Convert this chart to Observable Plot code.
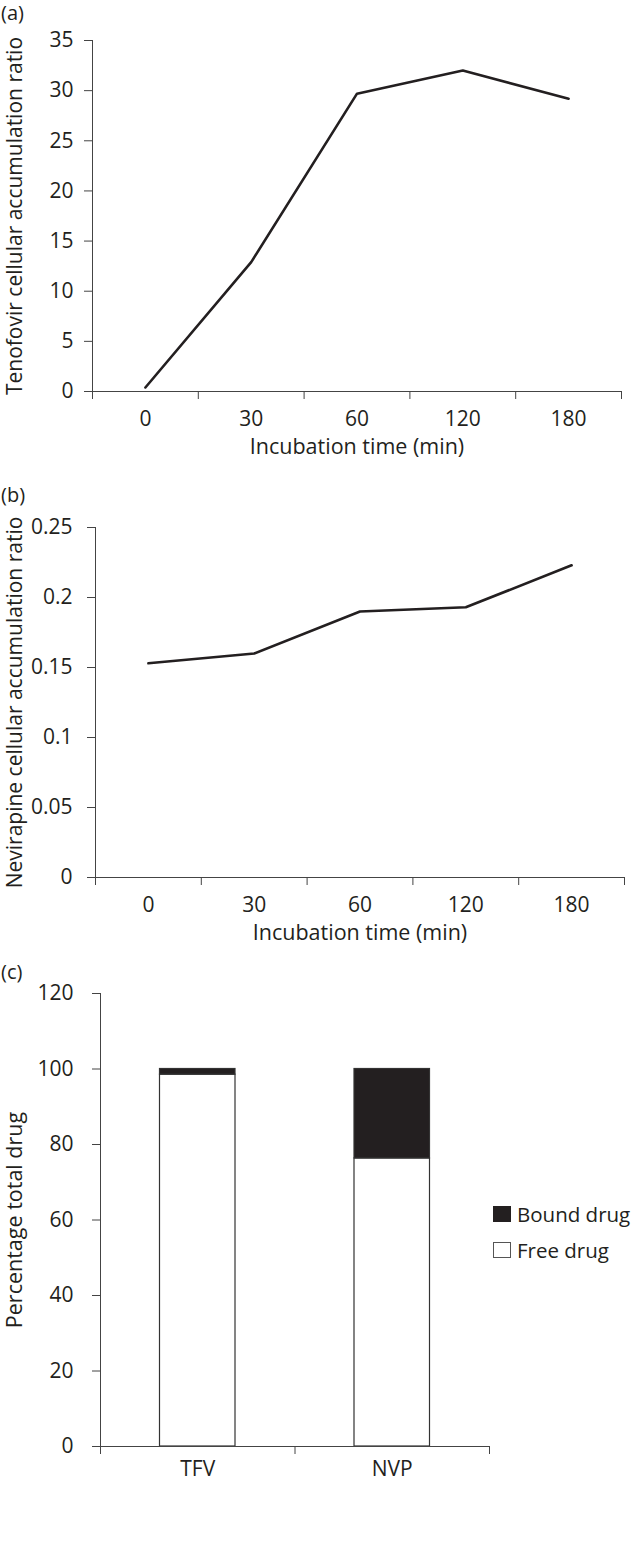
<!DOCTYPE html>
<html><head><meta charset="utf-8">
<script src="https://cdn.jsdelivr.net/npm/d3@7"></script>
<script src="https://cdn.jsdelivr.net/npm/@observablehq/plot@0.6"></script>
<style>
body{margin:0;background:#fff;}
#wrap{position:relative;width:632px;height:1546px;font-family:"Open Sans",sans-serif;color:#231f20;overflow:hidden;}
.panel{position:absolute;left:0;}
.plabel{position:absolute;left:1px;font-size:20px;line-height:1;}
#legend{position:absolute;left:493px;top:1196px;font-size:20.5px;line-height:1;white-space:nowrap;}
.lrow{display:flex;align-items:center;height:36px;}
.sw{width:16px;height:14px;margin-right:6px;border:1px solid #231f20;box-sizing:content-box;flex:none;}
</style></head>
<body><div id="wrap"></div>
<script>
// ---- data ----
const timeLabels = ["0", "30", "60", "120", "180"];
const tenofovirRatio = [0.4, 12.9, 29.7, 32.0, 29.2];
const nevirapineRatio = [0.153, 0.160, 0.190, 0.193, 0.223];
const tenofovirTicks = [0, 5, 10, 15, 20, 25, 30, 35];
const nevirapineTicks = [0, 0.05, 0.1, 0.15, 0.2, 0.25];
const drugs = ["TFV", "NVP"];
const freeDrug = [98.5, 76.3];
const boundDrug = [1.5, 23.7];
const percentTicks = [0, 20, 40, 60, 80, 100, 120];
const seriesNames = ["Bound drug", "Free drug"];

const ink = "#231f20";
const axisInk = "#444";
const font = '"Open Sans", sans-serif';
const wrap = document.getElementById("wrap");

function place(el, top) {
  el.classList.add("panel");
  el.style.top = top + "px";
  wrap.appendChild(el);
}
function panelLabel(txt, top) {
  const d = document.createElement("div");
  d.className = "plabel"; d.textContent = txt; d.style.top = top + "px";
  wrap.appendChild(d);
}

function linePanel({values, yTicks, yLabel, height, mt, mb, ml, mr, tickPad, fmt, labelDx}) {
  const n = timeLabels.length;
  const pts = values.map((v, i) => ({pos: i + 0.5, v}));
  return Plot.plot({
    width: 632, height, marginTop: mt, marginBottom: mb, marginLeft: ml, marginRight: mr,
    style: {fontFamily: font, fontSize: "21px", color: ink, background: "transparent", overflow: "visible"},
    x: {domain: [0, n], axis: null},
    y: {domain: [yTicks[0], yTicks[yTicks.length - 1]], axis: null},
    marks: [
      Plot.axisY({ticks: yTicks, tickSize: 8, tickPadding: tickPad, tickFormat: fmt, label: null, stroke: axisInk, fill: ink}),
      Plot.ruleX([0], {stroke: axisInk, strokeWidth: 1}),
      Plot.ruleY([yTicks[0]], {stroke: axisInk, strokeWidth: 1}),
      Plot.axisX({ticks: d3.range(n + 1), tickSize: 8, tickFormat: () => "", label: null, stroke: axisInk}),
      Plot.axisX({ticks: d3.range(n).map(i => i + 0.5), tickSize: 0, tickPadding: 20, tickFormat: v => timeLabels[Math.floor(v)], label: null, fill: ink}),
      Plot.line(pts, {x: "pos", y: "v", stroke: ink, strokeWidth: 2.6}),
      Plot.text(["Incubation time (min)"], {frameAnchor: "bottom", dy: 62, fontSize: 21.5, fill: ink}),
      Plot.text([yLabel], {frameAnchor: "left", textAnchor: "middle", dx: labelDx, rotate: -90, fontSize: 21, fill: ink})
    ]
  });
}

const a = linePanel({values: tenofovirRatio, yTicks: tenofovirTicks, yLabel: "Tenofovir cellular accumulation ratio",
  height: 480, mt: 40, mb: 89, ml: 92, mr: 11, tickPad: 11, fmt: d => String(d), labelDx: -77.5});
place(a, 0);
panelLabel("(a)", 3);

const b = linePanel({values: nevirapineRatio, yTicks: nevirapineTicks, yLabel: "Nevirapine cellular accumulation ratio",
  height: 480, mt: 47, mb: 83, ml: 95, mr: 8, tickPad: 15, fmt: d => String(+d.toFixed(2)), labelDx: -80.5});
place(b, 480);
panelLabel("(b)", 485);

// panel c
const rows = [];
drugs.forEach((d, i) => {
  rows.push({i, type: "Free drug", y1: 0, y2: freeDrug[i]});
  rows.push({i, type: "Bound drug", y1: freeDrug[i], y2: freeDrug[i] + boundDrug[i]});
});
const c = Plot.plot({
  width: 632, height: 586, marginTop: 33, marginBottom: 100, marginLeft: 100, marginRight: 143,
  style: {fontFamily: font, fontSize: "21px", color: ink, background: "transparent", overflow: "visible"},
  x: {domain: [0, drugs.length], axis: null},
  y: {domain: [0, 120], axis: null},
  color: {domain: seriesNames, range: [ink, "white"]},
  marks: [
    Plot.rect(rows, {x1: "i", x2: d => d.i + 1, y1: "y1", y2: "y2", fill: "type", stroke: "#333", strokeWidth: 1.2, insetLeft: 59.5, insetRight: 59.5}),
    Plot.axisY({ticks: percentTicks, tickSize: 8, tickPadding: 19, label: null, stroke: axisInk, fill: ink}),
    Plot.ruleX([0], {stroke: axisInk}),
    Plot.ruleY([0], {stroke: axisInk}),
    Plot.axisX({ticks: d3.range(drugs.length + 1), tickSize: 8, tickFormat: () => "", label: null, stroke: axisInk}),
    Plot.axisX({ticks: d3.range(drugs.length).map(i => i + 0.5), tickSize: 0, tickPadding: 15, tickFormat: v => drugs[Math.floor(v)], label: null, fill: ink}),
    Plot.text(["Percentage total drug"], {frameAnchor: "left", textAnchor: "middle", dx: -85, rotate: -90, fontSize: 21.5, fill: ink})
  ]
});
place(c, 960);
panelLabel("(c)", 962);

const lg = document.createElement("div");
lg.id = "legend";
seriesNames.forEach((s, k) => {
  const r = document.createElement("div"); r.className = "lrow";
  const sw = document.createElement("span"); sw.className = "sw";
  sw.style.background = k === 0 ? ink : "white";
  if (k === 1) sw.style.borderColor = "#555";
  const t = document.createElement("span"); t.textContent = s;
  r.appendChild(sw); r.appendChild(t); lg.appendChild(r);
});
wrap.appendChild(lg);
</script></body></html>
